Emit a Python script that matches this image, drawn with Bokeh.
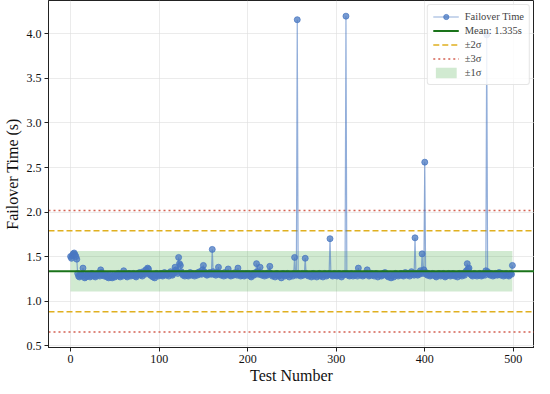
from bokeh.plotting import figure
from bokeh.models import Range1d, FixedTicker, Legend, LegendItem, NumeralTickFormatter
from bokeh.embed import file_html
from bokeh.resources import INLINE

failover_times = [
    1.50, 1.48, 1.51, 1.53, 1.54, 1.52, 1.50, 1.47, 1.31, 1.28,
    1.27, 1.29, 1.30, 1.28, 1.37, 1.30, 1.26, 1.27, 1.29, 1.28,
    1.30, 1.29, 1.27, 1.28, 1.31, 1.29, 1.30, 1.28, 1.27, 1.29,
    1.30, 1.31, 1.29, 1.28, 1.35, 1.32, 1.30, 1.29, 1.28, 1.30,
    1.29, 1.27, 1.28, 1.26, 1.29, 1.30, 1.27, 1.26, 1.28, 1.29,
    1.27, 1.28, 1.30, 1.29, 1.31, 1.28, 1.27, 1.29, 1.30, 1.28,
    1.34, 1.30, 1.29, 1.28, 1.27, 1.30, 1.31, 1.29, 1.28, 1.30,
    1.29, 1.31, 1.30, 1.28, 1.27, 1.29, 1.31, 1.30, 1.32, 1.29,
    1.30, 1.28, 1.33, 1.31, 1.30, 1.35, 1.33, 1.37, 1.36, 1.31,
    1.29, 1.30, 1.28, 1.27, 1.30, 1.26, 1.29, 1.31, 1.30, 1.28,
    1.29, 1.30, 1.31, 1.29, 1.28, 1.30, 1.32, 1.30, 1.29, 1.31,
    1.30, 1.28, 1.31, 1.33, 1.30, 1.29, 1.31, 1.32, 1.38, 1.35,
    1.33, 1.31, 1.49, 1.42, 1.40, 1.33, 1.31, 1.29, 1.30, 1.28,
    1.30, 1.31, 1.29, 1.28, 1.30, 1.32, 1.30, 1.29, 1.31, 1.30,
    1.28, 1.30, 1.31, 1.29, 1.32, 1.30, 1.33, 1.31, 1.30, 1.35,
    1.40, 1.33, 1.31, 1.30, 1.29, 1.31, 1.30, 1.32, 1.31, 1.30,
    1.58, 1.33, 1.30, 1.31, 1.29, 1.32, 1.30, 1.38, 1.31, 1.30,
    1.29, 1.31, 1.30, 1.28, 1.32, 1.30, 1.29, 1.31, 1.36, 1.30,
    1.29, 1.28, 1.30, 1.31, 1.29, 1.30, 1.32, 1.30, 1.29, 1.37,
    1.31, 1.30, 1.28, 1.29, 1.31, 1.30, 1.28, 1.29, 1.31, 1.30,
    1.29, 1.31, 1.30, 1.28, 1.27, 1.30, 1.31, 1.29, 1.30, 1.32,
    1.42, 1.33, 1.30, 1.31, 1.38, 1.30, 1.29, 1.31, 1.30, 1.28,
    1.30, 1.31, 1.29, 1.30, 1.32, 1.39, 1.31, 1.30, 1.28, 1.29,
    1.30, 1.27, 1.29, 1.31, 1.30, 1.28, 1.29, 1.30, 1.26, 1.29,
    1.31, 1.30, 1.28, 1.29, 1.30, 1.31, 1.29, 1.27, 1.30, 1.29,
    1.30, 1.28, 1.31, 1.49, 1.30, 1.29, 4.16, 1.31, 1.29, 1.30,
    1.28, 1.30, 1.31, 1.29, 1.30, 1.48, 1.31, 1.29, 1.30, 1.28,
    1.30, 1.29, 1.27, 1.30, 1.31, 1.28, 1.29, 1.30, 1.27, 1.29,
    1.30, 1.31, 1.28, 1.29, 1.30, 1.27, 1.29, 1.31, 1.30, 1.28,
    1.29, 1.30, 1.31, 1.70, 1.30, 1.29, 1.28, 1.30, 1.31, 1.29,
    1.30, 1.28, 1.29, 1.31, 1.30, 1.29, 1.27, 1.30, 1.29, 1.31,
    1.30, 4.20, 1.31, 1.29, 1.30, 1.28, 1.29, 1.31, 1.30, 1.28,
    1.30, 1.29, 1.31, 1.30, 1.28, 1.37, 1.31, 1.30, 1.29, 1.30,
    1.28, 1.30, 1.29, 1.31, 1.30, 1.35, 1.30, 1.28, 1.29, 1.30,
    1.31, 1.29, 1.30, 1.28, 1.30, 1.31, 1.29, 1.27, 1.30, 1.29,
    1.30, 1.28, 1.29, 1.31, 1.30, 1.32, 1.29, 1.30, 1.28, 1.27,
    1.29, 1.30, 1.26, 1.28, 1.29, 1.27, 1.30, 1.31, 1.29, 1.30,
    1.28, 1.30, 1.29, 1.31, 1.30, 1.29, 1.28, 1.30, 1.32, 1.30,
    1.29, 1.31, 1.30, 1.28, 1.30, 1.33, 1.31, 1.30, 1.29, 1.71,
    1.31, 1.30, 1.29, 1.31, 1.30, 1.34, 1.32, 1.53, 1.31, 1.35,
    2.56, 1.32, 1.30, 1.29, 1.31, 1.30, 1.28, 1.29, 1.30, 1.31,
    1.29, 1.30, 1.28, 1.27, 1.30, 1.29, 1.31, 1.30, 1.28, 1.29,
    1.30, 1.31, 1.29, 1.27, 1.28, 1.30, 1.29, 1.31, 1.30, 1.28,
    1.29, 1.30, 1.31, 1.29, 1.28, 1.30, 1.29, 1.27, 1.30, 1.31,
    1.29, 1.30, 1.28, 1.31, 1.30, 1.29, 1.32, 1.34, 1.42, 1.36,
    1.37, 1.31, 1.30, 1.29, 1.28, 1.30, 1.31, 1.29, 1.30, 1.28,
    1.30, 1.29, 1.31, 1.30, 1.28, 1.29, 1.30, 1.31, 1.29, 1.34,
    3.99, 1.33, 1.31, 1.30, 1.29, 1.31, 1.30, 1.28, 1.30, 1.29,
    1.31, 1.30, 1.29, 1.30, 1.32, 1.30, 1.29, 1.31, 1.30, 1.28,
    1.30, 1.29, 1.31, 1.30, 1.29, 1.28, 1.30, 1.31, 1.30, 1.40,
]
test_numbers = list(range(len(failover_times)))

mean_value = 1.335
sigma_value = 0.2275

x_ticks = [0, 100, 200, 300, 400, 500]
y_ticks = [0.5, 1.0, 1.5, 2.0, 2.5, 3.0, 3.5, 4.0]
x_limits = (-24.95, 523.95)
y_limits = (0.478, 4.376)

FONT = "Liberation Serif"

p = figure(width=534, height=386, output_backend="svg", toolbar_location=None,
           x_range=Range1d(*x_limits), y_range=Range1d(*y_limits),
           min_border_left=0, min_border_right=0, min_border_top=0, min_border_bottom=0)

p.xaxis.axis_label = "Test Number"
p.yaxis.axis_label = "Failover Time (s)"
for ax in (p.xaxis, p.yaxis):
    ax.axis_label_text_font = FONT
    ax.axis_label_text_font_style = "normal"
    ax.axis_label_text_font_size = "16px"
    ax.axis_label_text_color = "#111111"
    ax.major_label_text_font = FONT
    ax.major_label_text_font_size = "12px"
    ax.major_label_text_color = "#111111"
    ax.axis_line_color = "#222222"
    ax.major_tick_line_color = "#222222"
    ax.major_tick_out = 4
    ax.major_tick_in = 0
    ax.minor_tick_line_color = None
    ax.major_label_standoff = 3
    ax.axis_label_standoff = 3
p.xaxis.ticker = FixedTicker(ticks=x_ticks)
p.yaxis.ticker = FixedTicker(ticks=y_ticks)
p.yaxis.formatter = NumeralTickFormatter(format="0.0")
p.xaxis.axis_label_standoff = 1
p.xgrid.ticker = FixedTicker(ticks=x_ticks)
p.ygrid.ticker = FixedTicker(ticks=y_ticks)
p.grid.grid_line_color = "#dddddd"
p.grid.grid_line_alpha = 0.6
p.outline_line_color = "#222222"
p.outline_line_width = 1
p.outline_line_alpha = 1.0
p.background_fill_color = "white"

# ±1σ band
band = p.varea(x=test_numbers,
               y1=[mean_value - sigma_value] * len(test_numbers),
               y2=[mean_value + sigma_value] * len(test_numbers),
               fill_color="#2ca02c", fill_alpha=0.22)

# control lines
x0, x1 = x_limits
nan = float("nan")
sig3 = p.line(x=[x0, x1, nan, x0, x1],
              y=[mean_value + 3 * sigma_value] * 2 + [nan] + [mean_value - 3 * sigma_value] * 2,
              line_color="#cc4433", line_dash="2 3", line_width=1.5, line_alpha=0.85)
sig2 = p.line(x=[x0, x1, nan, x0, x1],
              y=[mean_value + 2 * sigma_value] * 2 + [nan] + [mean_value - 2 * sigma_value] * 2,
              line_color="#e0b020", line_dash="6 3", line_width=1.5)

# data
ln = p.line(test_numbers, failover_times, line_color="#4a78c2", line_width=1.2, line_alpha=0.6)
sc = p.scatter(test_numbers, failover_times, size=6, fill_color="#4a78c2", fill_alpha=0.75,
               line_color="#4a78c2", line_alpha=0.75)

mean_ln = p.line(x=[x0, x1], y=[mean_value, mean_value], line_color="#1a731a", line_width=2)

legend = Legend(items=[
    LegendItem(label="Failover Time", renderers=[ln, sc]),
    LegendItem(label=f"Mean: {mean_value:.3f}s", renderers=[mean_ln]),
    LegendItem(label="±2σ", renderers=[sig2]),
    LegendItem(label="±3σ", renderers=[sig3]),
    LegendItem(label="±1σ", renderers=[band]),
], location="top_right")
legend.label_text_font = FONT
legend.label_text_font_size = "10.5px"
legend.label_height = 13
legend.glyph_height = 13
legend.glyph_width = 26
legend.label_standoff = 6
legend.spacing = 1
legend.padding = 5
legend.margin = 4
legend.border_line_color = "#cccccc"
legend.border_radius = 3
legend.background_fill_alpha = 0.85
p.add_layout(legend)

open("out.html", "w").write(file_html(p, INLINE))
